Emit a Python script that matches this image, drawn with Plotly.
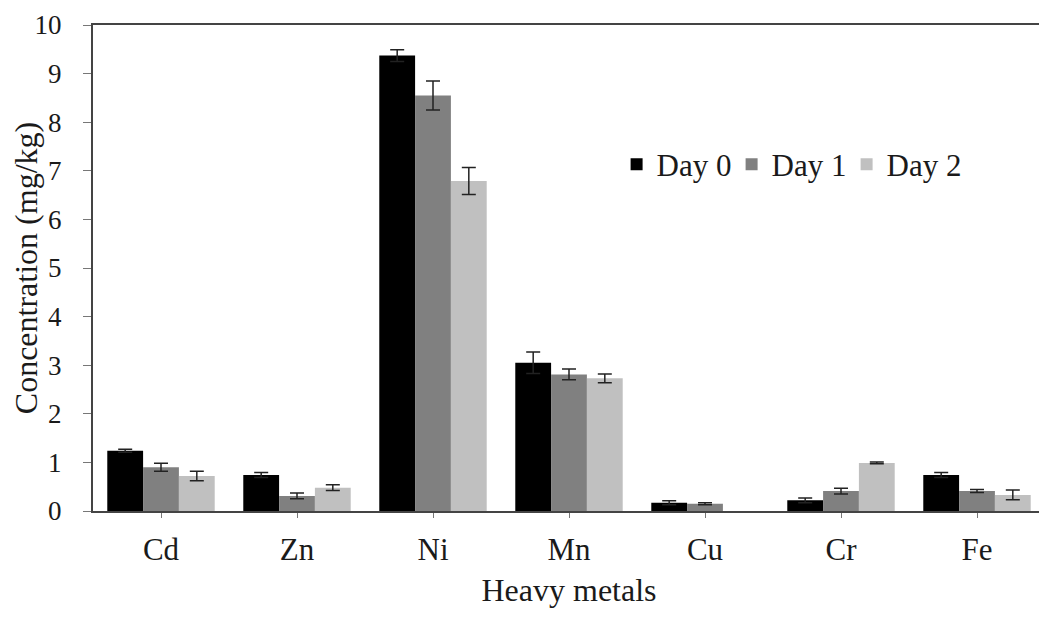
import plotly.graph_objects as go

metals = ["Cd", "Zn", "Ni", "Mn", "Cu", "Cr", "Fe"]
day0 = [1.24, 0.74, 9.37, 3.05, 0.17, 0.22, 0.74]
day0_err = [0.03, 0.05, 0.12, 0.22, 0.04, 0.05, 0.05]
day1 = [0.90, 0.31, 8.55, 2.81, 0.15, 0.41, 0.41]
day1_err = [0.08, 0.06, 0.30, 0.11, 0.02, 0.06, 0.03]
day2 = [0.72, 0.48, 6.79, 2.73, None, 0.99, 0.33]
day2_err = [0.10, 0.06, 0.28, 0.09, None, 0.02, 0.10]

series = [("Day 0", day0, day0_err, "#000000"),
          ("Day 1", day1, day1_err, "#808080"),
          ("Day 2", day2, day2_err, "#c0c0c0")]

fig = go.Figure()
for name, vals, errs, col in series:
    fig.add_trace(go.Bar(
        x=metals, y=vals, name=name,
        marker=dict(color=col, line=dict(width=0)),
        error_y=dict(type="data", array=errs, visible=True,
                     color="#222222", thickness=1.5, width=7),
    ))

serif = "Liberation Serif, Times New Roman, serif"
txt = "#1a1a1a"

fig.update_layout(
    width=1047, height=631,
    paper_bgcolor="white", plot_bgcolor="white",
    barmode="group", bargap=0.21, bargroupgap=0,
    margin=dict(l=85, r=10, t=17, b=128, autoexpand=True),
    font=dict(family=serif, size=32, color=txt),
    showlegend=True,
    legend=dict(orientation="h", x=0.55, y=0.713, xanchor="left", yanchor="middle",
                font=dict(family=serif, size=31, color=txt), bgcolor="rgba(0,0,0,0)",
                entrywidth=70, entrywidthmode="pixels", itemsizing="constant"),
    xaxis=dict(
        title=dict(text="Heavy metals", font=dict(family=serif, size=32, color=txt), standoff=12),
        showline=True, linecolor="#444444", linewidth=2, mirror=True, automargin=False,
        ticks="outside", ticklen=5, tickcolor="#777777", ticklabelstandoff=5,
        tickfont=dict(family=serif, size=31, color=txt), showgrid=False,
    ),
    yaxis=dict(
        title=dict(text="Concentration (mg/kg)", font=dict(family=serif, size=32, color=txt), standoff=18),
        range=[0, 10], dtick=1, tick0=0, automargin=False,
        showline=True, linecolor="#444444", linewidth=2, mirror=True,
        ticks="outside", ticklen=8, tickcolor="#777777", ticklabelstandoff=16,
        tickfont=dict(family=serif, size=27, color=txt), showgrid=False, zeroline=False,
    ),
)

fig.write_html("out.html")
